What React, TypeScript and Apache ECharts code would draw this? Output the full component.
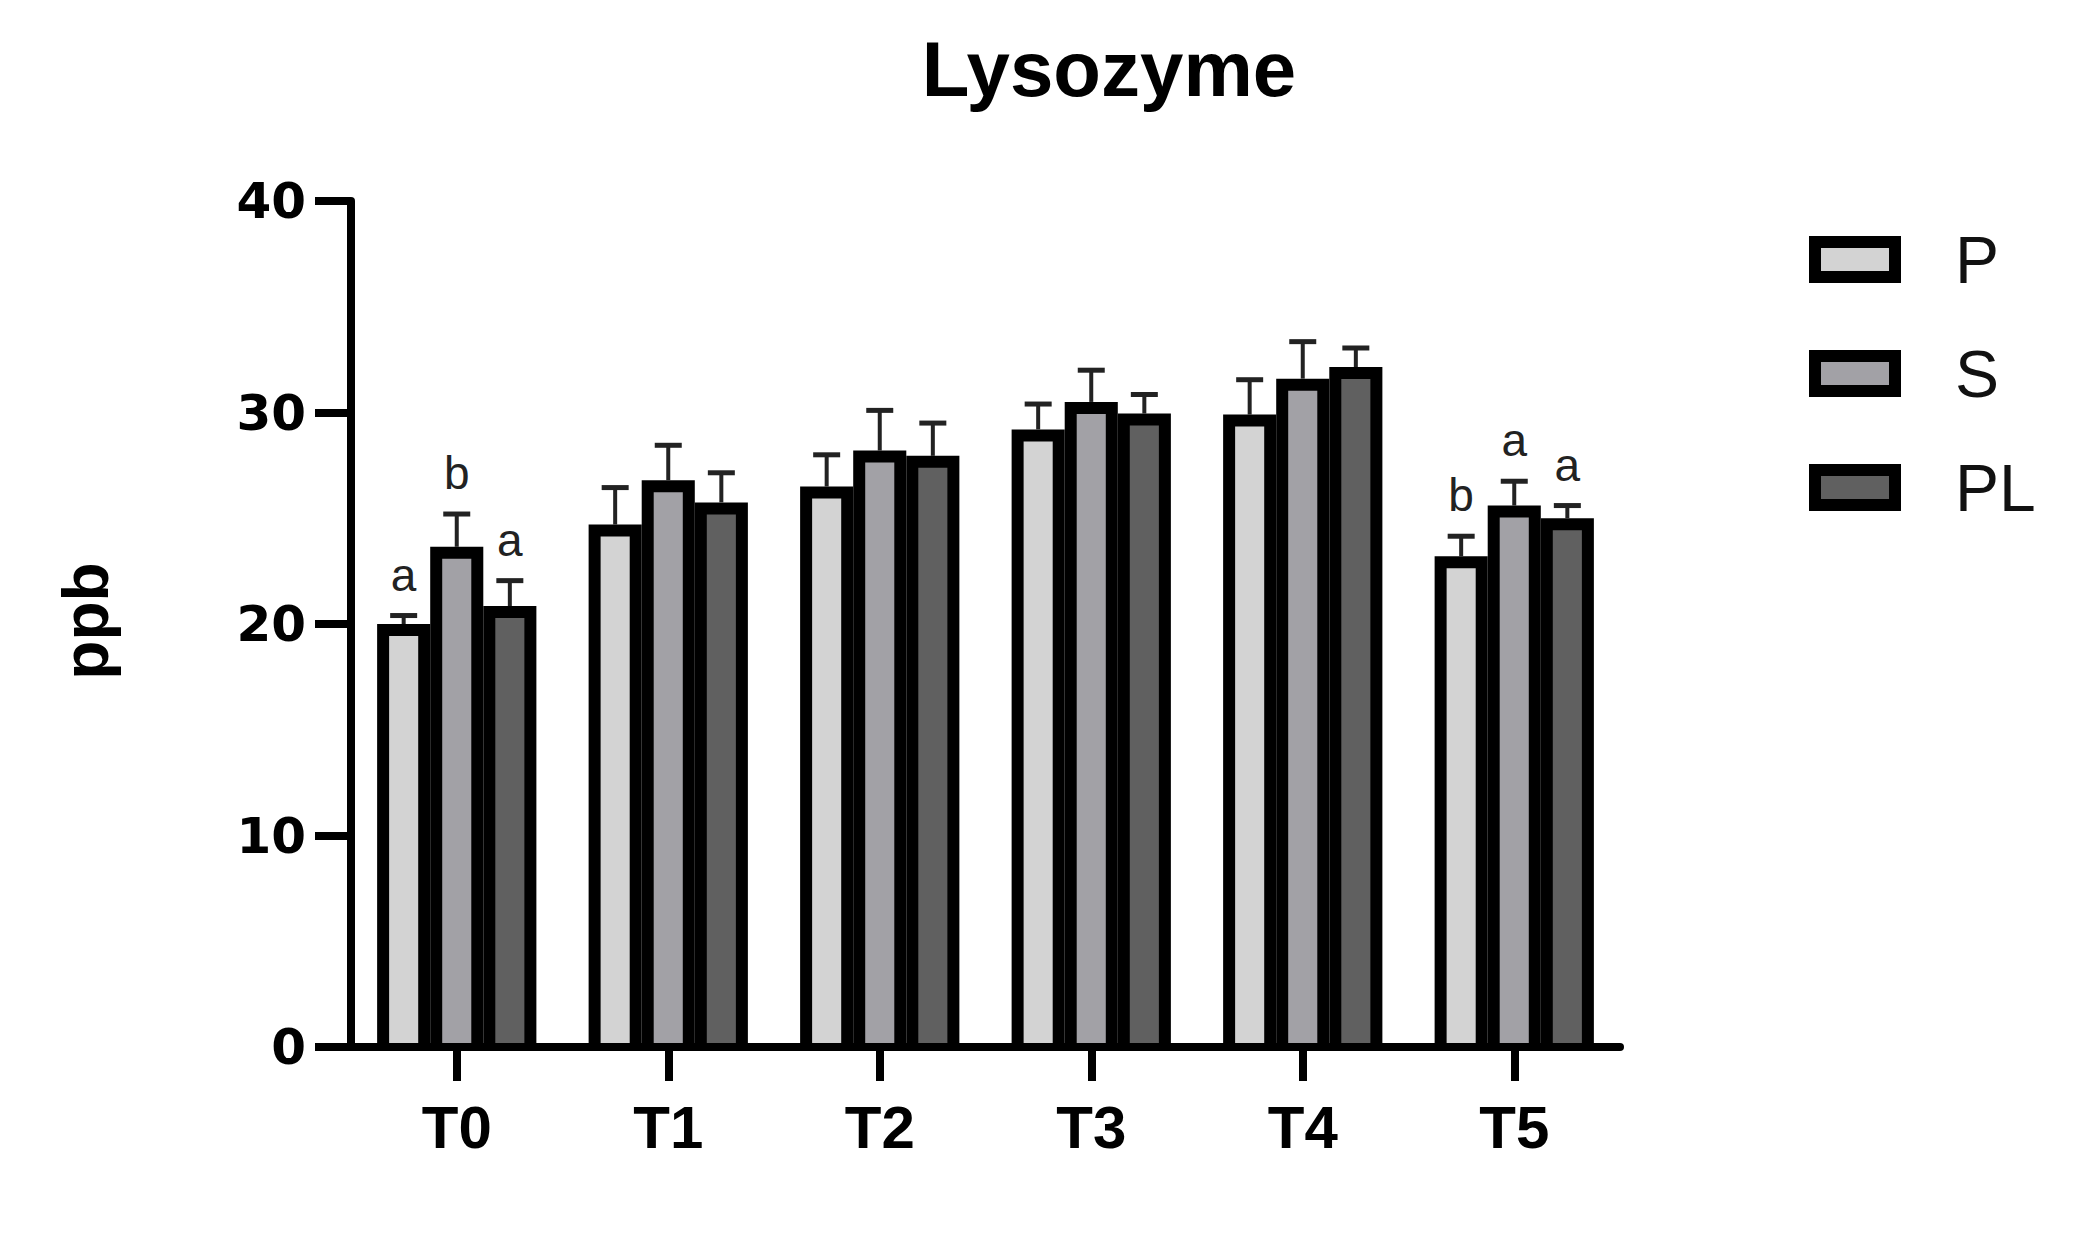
import React, { useEffect, useRef } from "react";
import * as echarts from "echarts";

const categories = ["T0", "T1", "T2", "T3", "T4", "T5"];
const seriesNames = ["P", "S", "PL"];
const seriesColors = ["#d3d3d3", "#a2a1a6", "#606060"];

const pMeans = [20.0, 24.7, 26.5, 29.2, 29.9, 23.2];
const pErrors = [0.4, 1.75, 1.5, 1.2, 1.65, 0.95];
const sMeans = [23.65, 26.8, 28.2, 30.5, 31.6, 25.6];
const sErrors = [1.55, 1.65, 1.9, 1.5, 1.75, 1.15];
const plMeans = [20.85, 25.75, 27.95, 29.95, 32.15, 25.0];
const plErrors = [1.2, 1.4, 1.55, 0.9, 0.9, 0.6];

const pLetters = ["a", "", "", "", "", "b"];
const sLetters = ["b", "", "", "", "", "a"];
const plLetters = ["a", "", "", "", "", "a"];

const yMin = 0;
const yMax = 40;
const yInterval = 10;

const chartTitle = "Lysozyme";
const yAxisName = "ppb";

const SANS = "'Liberation Sans', Arial, sans-serif";

export default function App() {
  const ref = useRef<HTMLDivElement>(null);

  useEffect(() => {
    if (!ref.current) return;
    const chart = echarts.init(ref.current, null, { renderer: "svg" });

    const meansList = [pMeans, sMeans, plMeans];
    const errList = [pErrors, sErrors, plErrors];
    const letterList = [pLetters, sLetters, plLetters];

    const makeSeries = (si: number) => ({
      type: "custom",
      name: seriesNames[si],
      data: categories.map((_, i) => [i, meansList[si][i], errList[si][i]]),
      encode: { x: 0, y: 1 },
      itemStyle: { color: seriesColors[si] },
      renderItem: (params: any, api: any) => {
        const idx = api.value(0);
        const mean = api.value(1);
        const err = api.value(2);
        const band = api.size([1, 0])[0];
        const barW = band * 0.251;
        const base = api.coord([idx, 0]);
        const top = api.coord([idx, mean]);
        const errTop = api.coord([idx, mean + err]);
        const cx = base[0] + (si - 1) * barW;
        const x0 = cx - barW / 2;
        const b = 12;
        const letter = letterList[si][params.dataIndex];
        const children: any[] = [
          {
            type: "rect",
            shape: { x: x0, y: top[1], width: barW, height: base[1] - top[1] },
            style: { fill: "#000" },
          },
          {
            type: "rect",
            shape: {
              x: x0 + b,
              y: top[1] + b,
              width: barW - 2 * b,
              height: base[1] - top[1] - b - 4,
            },
            style: { fill: seriesColors[si] },
          },
          {
            type: "line",
            shape: { x1: cx, y1: top[1], x2: cx, y2: errTop[1] },
            style: { stroke: "#222", lineWidth: 4 },
          },
          {
            type: "line",
            shape: { x1: cx - 13.5, y1: errTop[1], x2: cx + 13.5, y2: errTop[1] },
            style: { stroke: "#222", lineWidth: 5 },
          },
        ];
        if (letter) {
          children.push({
            type: "text",
            x: cx,
            y: errTop[1] - 18,
            style: {
              text: letter,
              fontSize: 46,
              fontFamily: SANS,
              fill: "#222",
              align: "center",
              verticalAlign: "bottom",
            },
          });
        }
        return { type: "group", children };
      },
    });

    const legendGraphics: any[] = [];
    seriesNames.forEach((name, i) => {
      const y = 242 + i * 114;
      legendGraphics.push({
        type: "rect",
        shape: { x: 1815, y, width: 80, height: 35 },
        style: { fill: seriesColors[i], stroke: "#000", lineWidth: 12 },
      });
      legendGraphics.push({
        type: "text",
        x: 1955,
        y: y + 17.5,
        style: {
          text: name,
          fontSize: 66,
          fontFamily: SANS,
          fill: "#111",
          align: "left",
          verticalAlign: "middle",
        },
      });
    });

    chart.setOption({
      animation: false,
      backgroundColor: "#fff",
      grid: { left: 351, top: 201, width: 1269, height: 846, containLabel: false },
      xAxis: {
        type: "category",
        data: categories,
        boundaryGap: true,
        axisLine: { show: true, lineStyle: { color: "#000", width: 8 } },
        axisTick: {
          show: true,
          alignWithLabel: true,
          length: 34,
          lineStyle: { color: "#000", width: 8 },
        },
        axisLabel: {
          margin: 80,
          verticalAlign: "middle",
          fontSize: 60,
          fontWeight: "bold",
          fontFamily: SANS,
          color: "#000",
        },
        splitLine: { show: false },
      },
      yAxis: {
        type: "value",
        min: yMin,
        max: yMax,
        interval: yInterval,
        axisLine: { show: true, lineStyle: { color: "#000", width: 8 } },
        axisTick: { show: true, length: 36, lineStyle: { color: "#000", width: 8 } },
        axisLabel: {
          margin: 45,
          fontSize: 50,
          fontWeight: "bold",
          fontFamily: "'DejaVu Sans', sans-serif",
          color: "#000",
        },
        splitLine: { show: false },
      },
      graphic: [
        {
          type: "text",
          x: 1109,
          y: 68.5,
          style: {
            text: chartTitle,
            fontSize: 78,
            fontWeight: "bold",
            fontFamily: SANS,
            fill: "#000",
            align: "center",
            verticalAlign: "middle",
          },
        },
        {
          type: "text",
          x: 86,
          y: 621,
          rotation: Math.PI / 2,
          style: {
            text: yAxisName,
            fontSize: 64,
            fontWeight: "bold",
            fontFamily: SANS,
            fill: "#000",
            align: "center",
            verticalAlign: "middle",
          },
        },
        ...legendGraphics,
      ],
      series: [makeSeries(0), makeSeries(1), makeSeries(2)],
    });

    return () => chart.dispose();
  }, []);

  return (
    <div
      ref={ref}
      style={{ position: "fixed", left: 0, top: 0, width: 2073, height: 1235, background: "#fff" }}
    />
  );
}
